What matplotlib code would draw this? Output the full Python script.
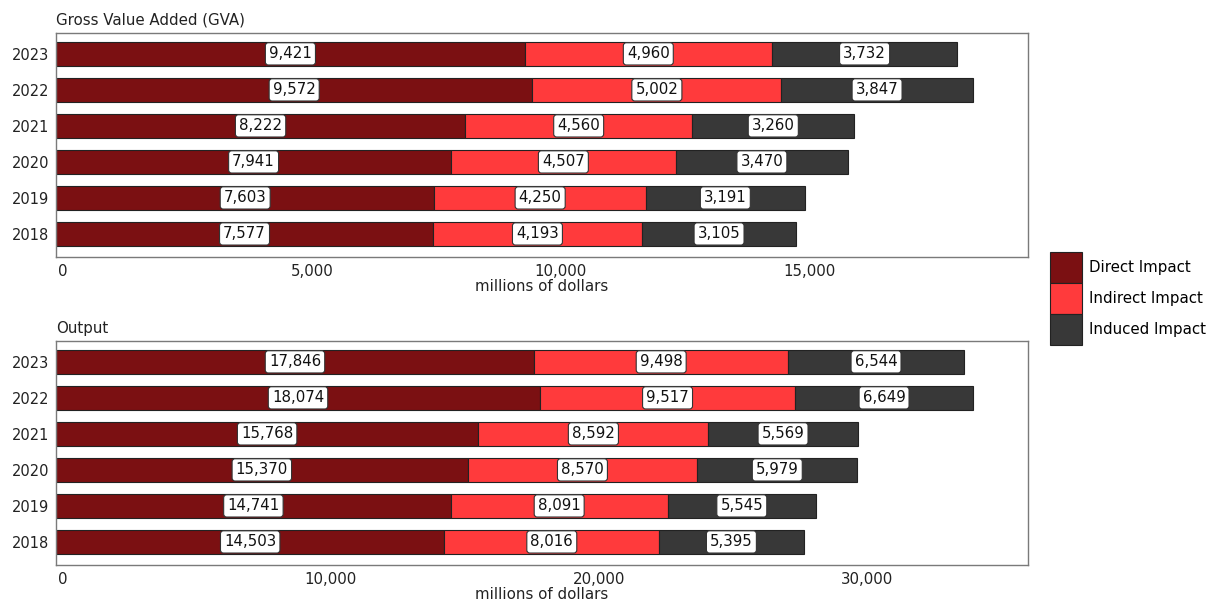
import matplotlib.pyplot as plt
import matplotlib.transforms as mtransforms
import numpy as np
from matplotlib.patches import Patch

plt.rcParams['font.family'] = ['DejaVu Sans']

years = ['2018', '2019', '2020', '2021', '2022', '2023']

gva_direct = [7577, 7603, 7941, 8222, 9572, 9421]
gva_indirect = [4193, 4250, 4507, 4560, 5002, 4960]
gva_induced = [3105, 3191, 3470, 3260, 3847, 3732]

out_direct = [14503, 14741, 15370, 15768, 18074, 17846]
out_indirect = [8016, 8091, 8570, 8592, 9517, 9498]
out_induced = [5395, 5545, 5979, 5569, 6649, 6544]

series_names = ['Direct Impact', 'Indirect Impact', 'Induced Impact']
colors = ['#7b1012', '#ff3a3c', '#383838']

FS = 10.8


def draw_panel(ax, title, series, xmax, xticks):
    y = np.arange(len(years))
    left = np.zeros(len(years))
    for vals, col in zip(series, colors):
        vals = np.array(vals, dtype=float)
        ax.barh(y, vals, left=left, height=0.67, color=col,
                edgecolor='#222222', linewidth=0.8)
        for yi, l, v in zip(y, left, vals):
            ax.text(l + v / 2, yi, f'{int(v):,}', ha='center', va='center',
                    fontsize=FS, color='#111111',
                    bbox=dict(boxstyle='round,pad=0.24,rounding_size=0.2',
                              fc='white', ec='#333333', lw=0.8))
        left = left + vals

    ax.set_xlim(0, xmax)
    ax.set_ylim(-0.64, 5.58)
    ax.set_yticks(y)
    ax.set_yticklabels(years, fontsize=10.5, color='#222222')
    ax.set_xticks(xticks)
    ax.set_xticklabels([f'{t:,}' for t in xticks], fontsize=FS, color='#222222')
    ax.tick_params(length=0, pad=5)
    # tick labels sit a little to the right of their ticks in the original
    offset = mtransforms.ScaledTranslation(7 / 100, 0, ax.figure.dpi_scale_trans)
    for lab in ax.get_xticklabels():
        lab.set_transform(lab.get_transform() + offset)
    ax.set_xlabel('millions of dollars', fontsize=FS, color='#222222', labelpad=0)
    ax.set_title(title, loc='left', fontsize=FS, color='#222222', pad=6)
    for s in ax.spines.values():
        s.set_color('#7a7a7a')
        s.set_linewidth(1.0)


fig = plt.figure(figsize=(12.09, 6.02), dpi=100)
ax1 = fig.add_axes([0.0463, 0.5731, 0.804, 0.3721])
ax2 = fig.add_axes([0.0463, 0.0615, 0.804, 0.3721])

draw_panel(ax1, 'Gross Value Added (GVA)', [gva_direct, gva_indirect, gva_induced],
           19530, [0, 5000, 10000, 15000])
draw_panel(ax2, 'Output', [out_direct, out_indirect, out_induced],
           36290, [0, 10000, 20000, 30000])

handles = [Patch(facecolor=c, edgecolor='#222222', linewidth=0.8) for c in colors]
fig.legend(handles, series_names, loc='center left', bbox_to_anchor=(0.8685, 0.504),
           frameon=False, fontsize=FS, handlelength=2.13, handleheight=2.8,
           handletextpad=0.5, labelspacing=0.0, borderaxespad=0, borderpad=0)

fig.savefig('out.png', dpi=100)
